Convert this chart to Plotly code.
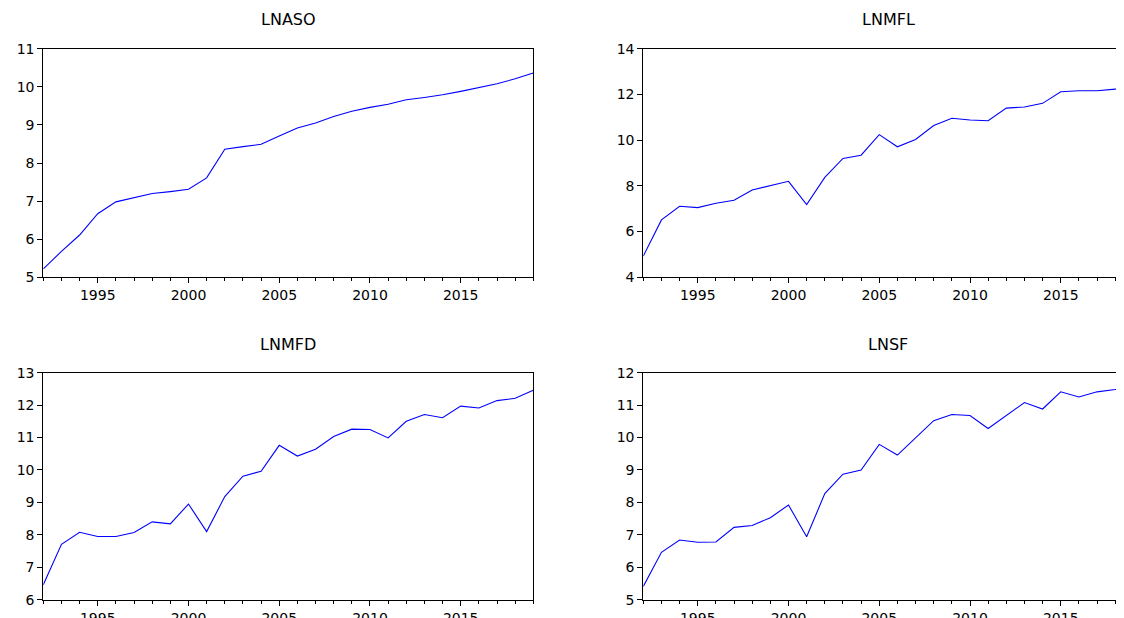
import plotly.graph_objects as go

years = list(range(1992, 2020))

lnaso = [5.22, 5.68, 6.11, 6.67, 6.98, 7.10, 7.20, 7.25, 7.31, 7.61,
         8.36, 8.43, 8.49, 8.71, 8.92, 9.05, 9.22, 9.36, 9.46, 9.54,
         9.66, 9.72, 9.79, 9.88, 9.97, 10.08, 10.21, 10.36]

lnmfl = [4.93, 6.51, 7.11, 7.05, 7.24, 7.37, 7.82, 8.00, 8.20, 7.18,
         8.37, 9.20, 9.34, 10.24, 9.71, 10.03, 10.64, 10.96, 10.88, 10.85,
         11.40, 11.45, 11.61, 12.12, 12.16, 12.16, 12.23, 12.52]

lnmfd = [6.46, 7.71, 8.08, 7.95, 7.95, 8.07, 8.40, 8.34, 8.95, 8.10,
         9.18, 9.81, 9.96, 10.76, 10.43, 10.64, 11.03, 11.26, 11.25, 10.99,
         11.50, 11.71, 11.61, 11.97, 11.91, 12.14, 12.21, 12.46]

lnsf = [5.41, 6.46, 6.84, 6.77, 6.78, 7.23, 7.29, 7.53, 7.92, 6.94,
        8.27, 8.87, 9.00, 9.79, 9.46, 9.99, 10.52, 10.71, 10.68, 10.28,
        10.67, 11.08, 10.88, 11.41, 11.25, 11.41, 11.48, 11.65]

titles = ["LNASO", "LNMFL", "LNMFD", "LNSF"]
series = [lnaso, lnmfl, lnmfd, lnsf]
y_ranges = [[5, 11], [4, 14], [6, 13], [5, 12]]
y_dticks = [1, 2, 1, 1]

# the page has an 8px body margin; the figure fills the rest of the window
OFF = 8
W, H = 1124 - OFF, 618 - OFF
px_per_year = 18.15


def fx(px):
    return (px - OFF) / W


def fy(py):
    return 1 - (py - OFF) / H


left_x = (fx(43.3), fx(533.3))
right_x = (fx(643.3), 1.0)
right_end = 1992 + (W + OFF - 643.3) / px_per_year
top_y = (fy(277.3), fy(48.7))
bot_y = (fy(599.7), fy(372.7))

domains = [(left_x, top_y), (right_x, top_y), (left_x, bot_y), (right_x, bot_y)]
x_ranges = [[1992, 2019], [1992, right_end], [1992, 2019], [1992, right_end]]
title_y = [fy(20), fy(20), fy(344.5), fy(344.5)]
title_x = [fx(288.3), fx(888.3), fx(288.3), fx(888.3)]

font_family = "DejaVu Sans, Liberation Sans, Arial"

fig = go.Figure()
annotations = []
for i in range(4):
    ax = "" if i == 0 else str(i + 1)
    fig.add_trace(go.Scatter(
        x=years, y=series[i], mode="lines",
        line=dict(color="#0000FF", width=1.1),
        xaxis="x" + ax, yaxis="y" + ax, showlegend=False,
        hoverinfo="x+y",
    ))
    (dx, dy) = domains[i]
    is_right = i in (1, 3)
    fig.layout["xaxis" + ax] = dict(
        domain=list(dx), range=x_ranges[i], anchor="y" + ax,
        tickmode="linear", tick0=1995, dtick=5,
        ticks="outside", ticklen=5, tickcolor="black", tickwidth=1,
        minor=dict(ticks="outside", dtick=1, tick0=1992, ticklen=3,
                   tickcolor="black", tickwidth=1),
        showline=True, linecolor="black", linewidth=1, mirror=True,
        showgrid=False, zeroline=False, automargin=False,
        tickfont=dict(family=font_family, size=14, color="black"),
    )
    fig.layout["yaxis" + ax] = dict(
        domain=list(dy), range=y_ranges[i], anchor="x" + ax,
        tickmode="linear", tick0=0, dtick=y_dticks[i],
        ticks="outside", ticklen=5, tickcolor="black", tickwidth=1,
        showline=True, linecolor="black", linewidth=1,
        mirror=(not is_right),
        showgrid=False, zeroline=False, automargin=False,
        tickfont=dict(family=font_family, size=14, color="black"),
    )
    annotations.append(dict(
        text=titles[i], xref="paper", yref="paper",
        x=title_x[i], y=title_y[i],
        xanchor="center", yanchor="middle", showarrow=False,
        font=dict(family=font_family, size=16, color="black"),
    ))

fig.update_layout(
    width=W, height=H,
    margin=dict(l=0, r=0, t=0, b=0, autoexpand=False),
    paper_bgcolor="white", plot_bgcolor="white",
    annotations=annotations,
)

fig.write_html("out.html")
